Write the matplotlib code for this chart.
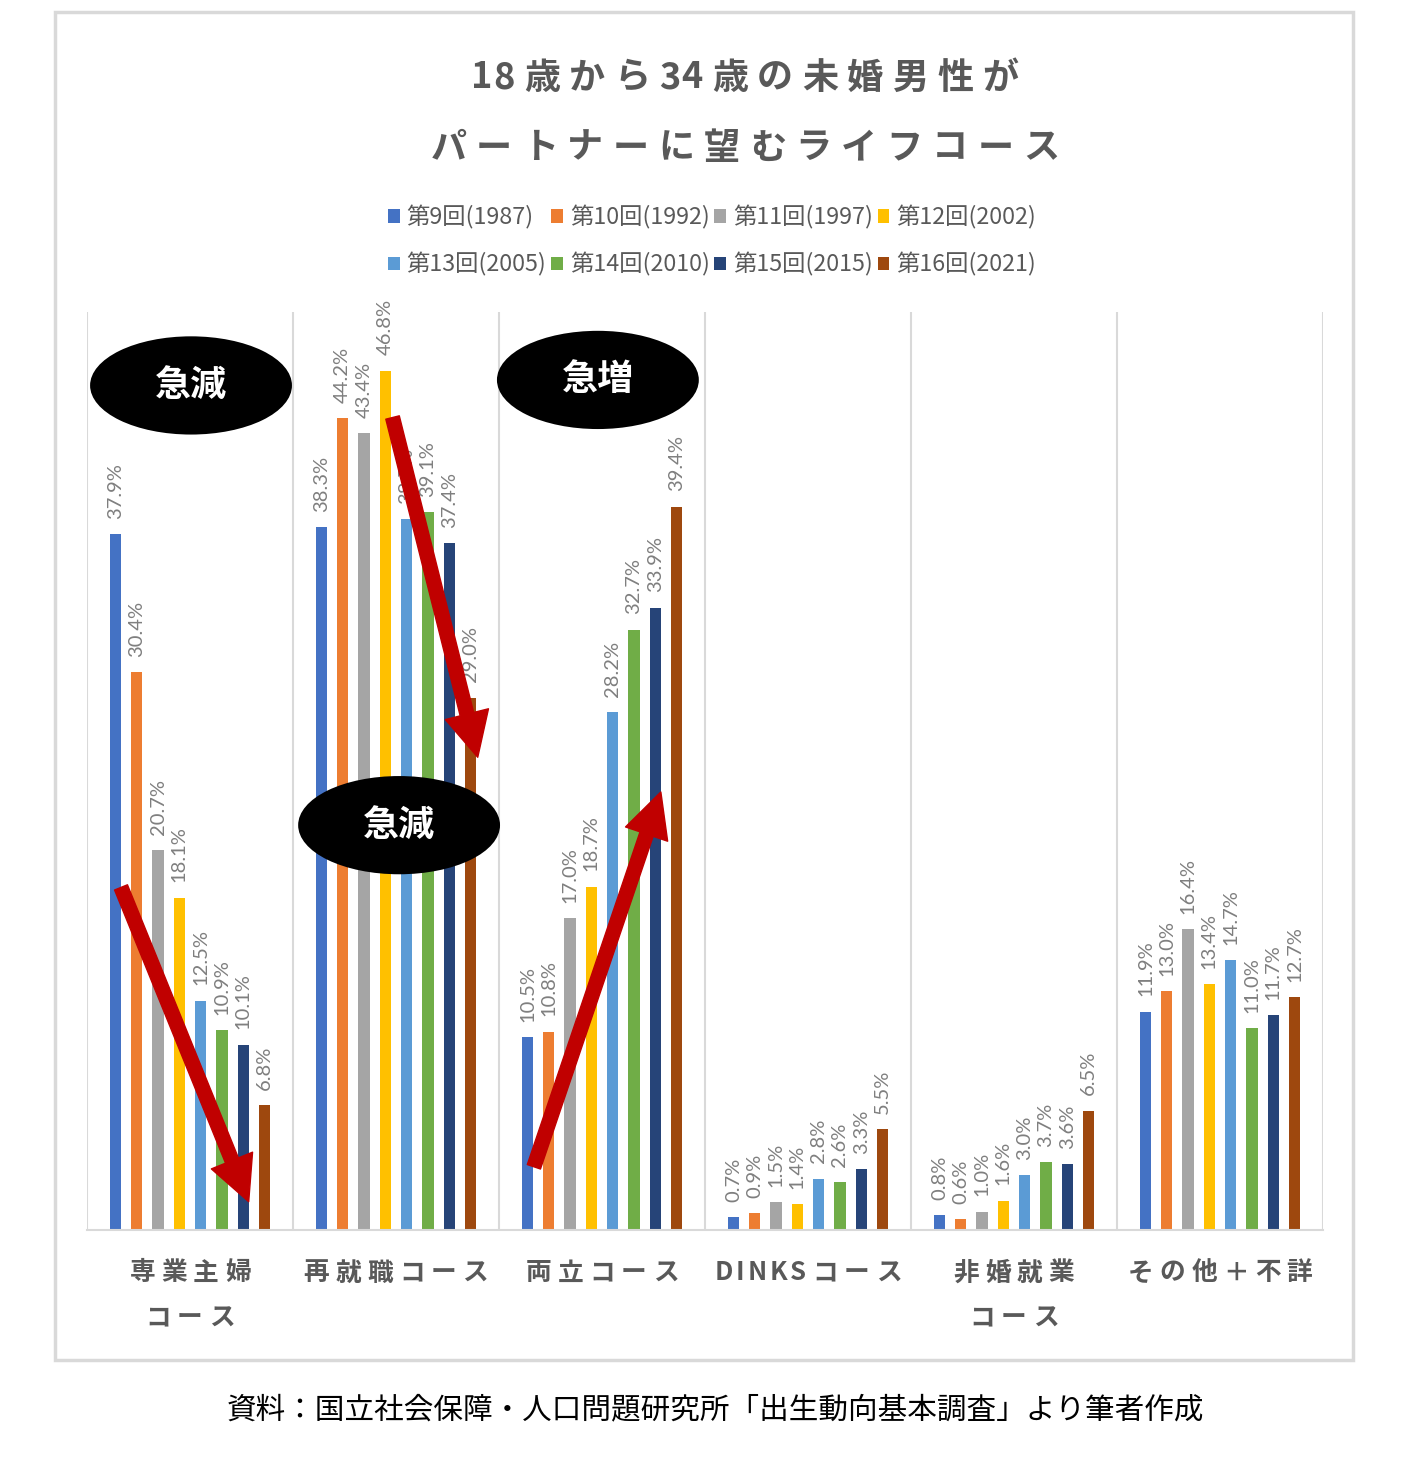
import matplotlib
matplotlib.use("Agg")
import matplotlib.pyplot as plt
import numpy as np
from matplotlib.font_manager import FontProperties
from matplotlib.patches import Ellipse, FancyArrowPatch, Rectangle

plt.rcParams['font.family'] = ['Noto Sans CJK JP', 'DejaVu Sans']

# ---- data ----
categories = [["専業主婦", "コース"], ["再就職コース"], ["両立コース"],
              ["DINKSコース"], ["非婚就業", "コース"], ["その他＋不詳"]]
series_names = ["第9回(1987)", "第10回(1992)", "第11回(1997)", "第12回(2002)",
                "第13回(2005)", "第14回(2010)", "第15回(2015)", "第16回(2021)"]
colors = ["#4472C4", "#ED7D31", "#A5A5A5", "#FFC000",
          "#5B9BD5", "#70AD47", "#264478", "#9E480E"]

sengyo   = [37.9, 30.4, 20.7, 18.1, 12.5, 10.9, 10.1, 6.8]
saishu   = [38.3, 44.2, 43.4, 46.8, 38.7, 39.1, 37.4, 29.0]
ryoritsu = [10.5, 10.8, 17.0, 18.7, 28.2, 32.7, 33.9, 39.4]
dinks    = [0.7, 0.9, 1.5, 1.4, 2.8, 2.6, 3.3, 5.5]
hikon    = [0.8, 0.6, 1.0, 1.6, 3.0, 3.7, 3.6, 6.5]
sonota   = [11.9, 13.0, 16.4, 13.4, 14.7, 11.0, 11.7, 12.7]
values = np.array([sengyo, saishu, ryoritsu, dinks, hikon, sonota])

title_lines = ["18歳から34歳の未婚男性が", "パートナーに望むライフコース"]
source = "資料：国立社会保障・人口問題研究所「出生動向基本調査」より筆者作成"

W, H = 1413, 1463
fig = plt.figure(figsize=(W / 100, H / 100), dpi=100)
renderer = fig.canvas.get_renderer()


def fx(px):
    return px / W


def fy(py):
    return 1 - py / H


def tokens(s):
    # keep runs of ASCII letters/digits together, split the rest per char
    out = []
    for c in s:
        if out and c.isascii() and c.isalnum() and out[-1][-1].isascii() and out[-1][-1].isalnum():
            out[-1] += c
        else:
            out.append(c)
    return out


def spaced_text(cx, cy, s, spacing, inner=0, **kw):
    """draw text centred at pixel (cx, cy) with extra letter spacing"""
    prop = FontProperties(family=plt.rcParams['font.family'],
                          size=kw.get("fontsize", 12), weight=kw.get("fontweight", "normal"))
    parts = []
    for t in tokens(s):
        if len(t) > 1:
            parts += [(c, inner) for c in t]
            parts[-1] = (parts[-1][0], spacing)
        else:
            parts.append((t, spacing))
    widths = [renderer.get_text_width_height_descent(c, prop, ismath=False)[0] for c, _ in parts]
    total = sum(widths) + sum(g for _, g in parts[:-1])
    x = cx - total / 2
    for (c, g), w in zip(parts, widths):
        fig.text(fx(x + w / 2), fy(cy), c, ha="center", va="center", **kw)
        x += w + g


# outer border
fig.patches.append(Rectangle((fx(55), fy(1360)), fx(1353) - fx(55), fy(12) - fy(1360),
                             transform=fig.transFigure, fill=False,
                             edgecolor="#D9D9D9", linewidth=2.5))

# title
spaced_text(745, 78, title_lines[0], 9, inner=1, fontsize=26, fontweight="bold", color="#595959")
spaced_text(745, 148, title_lines[1], 9.5, fontsize=26, fontweight="bold", color="#595959")

# axes
ax = fig.add_axes([fx(87), fy(1230), fx(1323) - fx(87), fy(312) - fy(1230)])
n_cat, n_ser = values.shape
x = np.arange(n_cat)
step = 0.1035
bw = 0.055
bars = []
for j in range(n_ser):
    xs = x + (j - (n_ser - 1) / 2) * step
    b = ax.bar(xs, values[:, j], width=bw, color=colors[j], zorder=2)
    bars.append(b)
    for xi, v in zip(xs, values[:, j]):
        ax.annotate(f"{v:.1f}%", (xi, v), xytext=(0, 11), textcoords="offset points",
                    rotation=90, ha="center", va="bottom", fontsize=14.5,
                    color="#7F7F7F", family="Lato", zorder=3)

ax.set_xlim(-0.5, n_cat - 0.5)
ax.set_ylim(0, 50)
ax.set_yticks([])
ax.set_xticks([])
for s in ["top", "left", "right"]:
    ax.spines[s].set_visible(False)
ax.spines["bottom"].set_color("#D9D9D9")
ax.spines["bottom"].set_linewidth(1.5)
for b in np.arange(n_cat + 1) - 0.5:
    ax.axvline(b, color="#D9D9D9", linewidth=1.5, zorder=1)

# category labels
for i, lines in enumerate(categories):
    cx = 87 + (i + 0.5) * (1323 - 87) / n_cat
    for k, line in enumerate(lines):
        spaced_text(cx, 1273 + 45 * k, line, 6, inner=3, fontsize=18.5, fontweight="bold", color="#595959")

# legend (row-wise order)
order = [0, 4, 1, 5, 2, 6, 3, 7]
leg = fig.legend([bars[i] for i in order], [series_names[i] for i in order],
                 loc="center", bbox_to_anchor=(fx(712), fy(241)), ncol=4, frameon=False,
                 fontsize=16.8, handlelength=0.5, handleheight=0.5, handletextpad=0.3,
                 columnspacing=0.2, labelspacing=1.0, labelcolor="#595959")

# arrows
arrow_kw = dict(arrowstyle="simple,tail_width=1.0,head_width=3.2,head_length=3.2",
                mutation_scale=10, color="#C00000", zorder=5, clip_on=False)
for (x0, y0), (x1, y1) in [((-0.34, 18.8), (0.29, 1.4)),
                           ((0.98, 44.4), (1.40, 25.6)),
                           ((1.665, 3.3), (2.29, 24.0))]:
    ax.add_patch(FancyArrowPatch((x0, y0), (x1, y1), **arrow_kw))

# callouts
for (cx, cy), label in [((0.005, 46.0), "急減"), ((1.98, 46.3), "急増"), ((1.015, 22.05), "急減")]:
    ax.add_patch(Ellipse((cx, cy), 0.98, 5.35, facecolor="black", edgecolor="none",
                         zorder=6, clip_on=False))
    ax.text(cx, cy, label, ha="center", va="center", color="white", fontsize=26,
            fontweight="bold", zorder=7)

# source
fig.text(fx(715), fy(1410), source, ha="center", va="center", fontsize=21.3, color="black")

fig.savefig("out.png", dpi=100)
